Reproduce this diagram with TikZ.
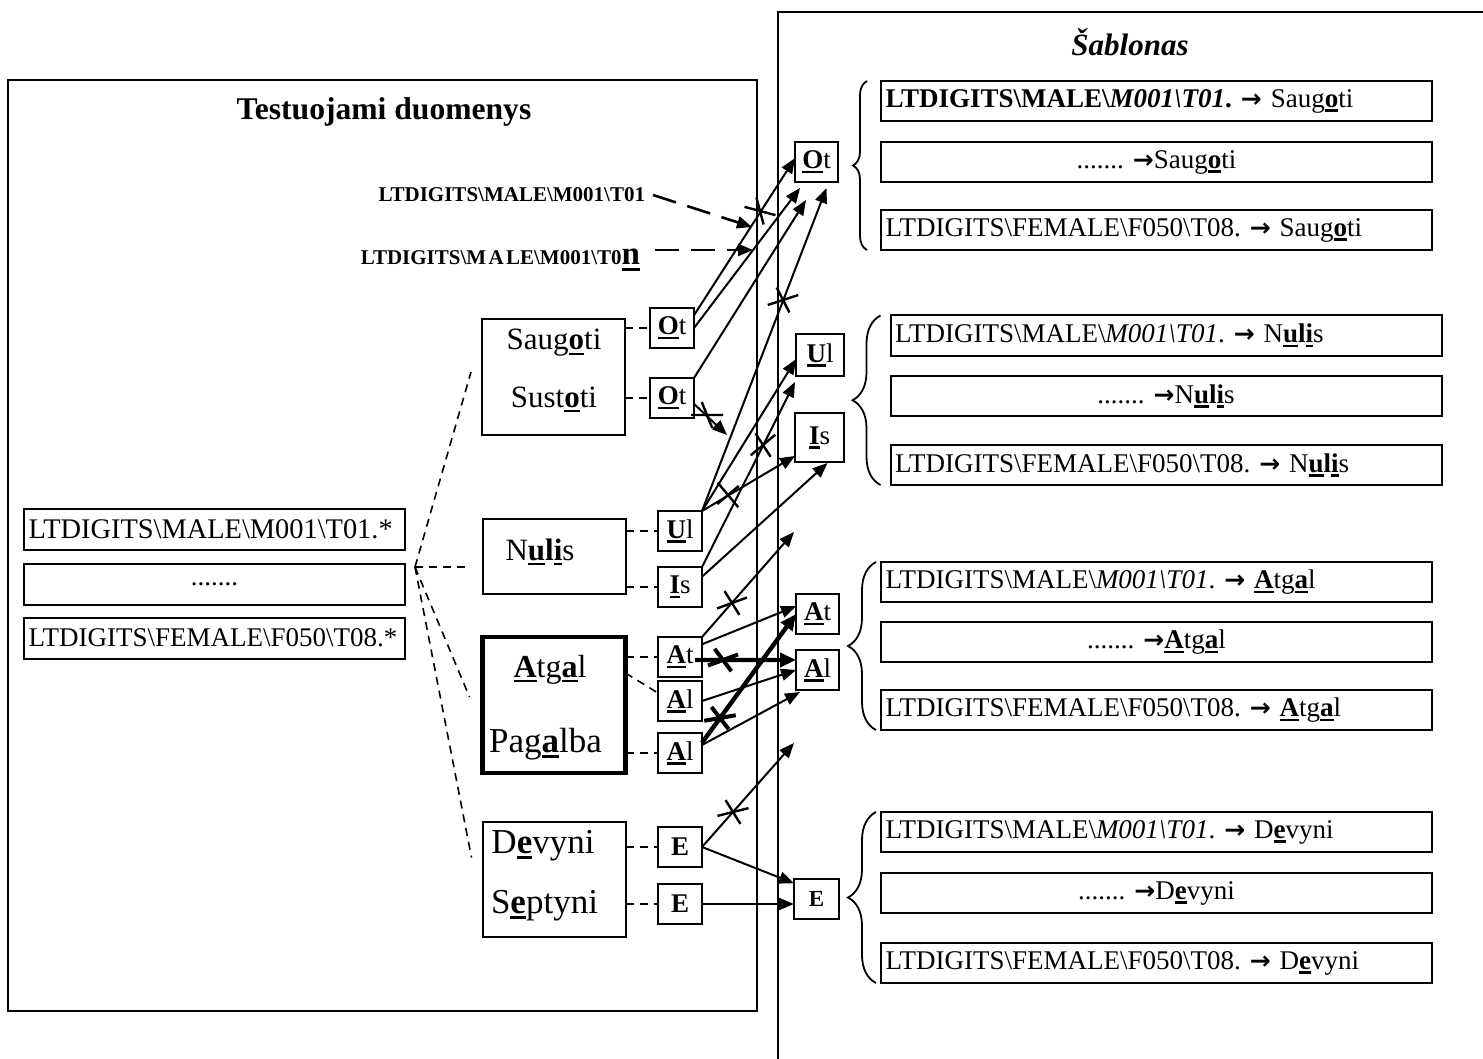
\documentclass[tikz,border=0pt]{standalone}
\usepackage{fontspec}
\setmainfont{Liberation Serif}
\newfontfamily\arrowfont{DejaVu Sans}
\usetikzlibrary{arrows.meta,calc,decorations.pathreplacing}
\frenchspacing

% bold letter with a heavy underline
\newsavebox\ulbox
\newcommand\ubf[1]{\sbox\ulbox{\bfseries #1}\rlap{\rule[-0.17em]{\wd\ulbox}{0.085em}}\usebox\ulbox}
\newcommand\bsl{\textbackslash}
\newcommand\setfs[1]{\fontsize{#1pt}{#1pt}\selectfont}
\newcommand\tto{{\arrowfont\bfseries\setfs{12.5}→}}

\tikzset{
  every node/.style={inner sep=0pt, outer sep=0pt},
  frame/.style={draw, line width=1pt},
  rowbox/.style={draw, line width=1pt, minimum width=190.5pt, minimum height=20.5pt,
    text width=186pt, align=left, font=\setfs{13.5}},
  wordbox/.style={draw, line width=1pt, minimum width=71.5pt},
  wordtext/.style={anchor=base, font=\setfs{15.5}},
  tag/.style={draw, line width=1pt, minimum width=22pt, minimum height=20pt, font=\setfs{13.5}},
  tmpl/.style={draw, line width=1pt, minimum width=275.5pt, minimum height=20pt,
    text width=271pt, align=left, font=\setfs{13.5}},
  link/.style={line width=1pt, -{Triangle[length=7.5pt,width=6pt]}},
  heavylink/.style={line width=2.2pt, -{Triangle[length=8pt,width=7pt]}},
  dotlink/.style={line width=0.8pt, dash pattern=on 4pt off 3pt},
  dashlink/.style={line width=1.3pt, dash pattern=on 12pt off 6pt, -{Triangle[length=7.5pt,width=6pt]}},
  grp/.style={decorate, decoration={brace, amplitude=#1}, line width=0.9pt},
  pics/xmark/.style n args={3}{code={
    \draw[line width=#3] (#1:16) -- (#1+180:16) (#2:14) -- (#2+180:14);}}
}

\begin{document}
\begin{tikzpicture}[x=0.5pt, y=-0.5pt]
\useasboundingbox (0,0) rectangle (1483,1059);

% ---- the two frames
\node[frame, anchor=north west, minimum width=374.5pt, minimum height=465.5pt] (dataframe) at (8,80) {};
\draw[line width=1pt] (778,1059) -- (778,12) -- (1483,12);
\node[font=\bfseries\setfs{15.8}] (ttl) at (384,112) {Testuojami duomenys};
\node[font=\bfseries\itshape\setfs{15.5}] (tpl) at (1130,42) {Šablonas};

% ---- recorded files
\node[rowbox, font=\setfs{14.2}] (r1) at (214.5,529.5) {LTDIGITS\bsl MALE\bsl M001\bsl T01.*};
\node[rowbox, align=center] (r2) at (214.5,584) {.......};
\node[rowbox] (r3) at (214.5,638) {LTDIGITS\bsl FEMALE\bsl F050\bsl T08.*};
\coordinate (fan) at (415,567);

% ---- words
\node[wordbox, minimum height=58pt] (sbox) at (553.5,377) {};
\node[wordtext] (sw1) at (554,350) {Saug\ubf{o}ti};
\node[wordtext] (sw2) at (554,407) {Sust\ubf{o}ti};
\node[wordbox, minimum height=37.5pt] (nbox) at (554,556.5) {};
\node[wordtext] (nw) at (540,560) {N\ubf{u}\textbf{l}\ubf{i}s};
\node[wordbox, line width=2.2pt, minimum height=68pt] (abox) at (554,705) {};
\node[wordtext, font=\setfs{16}] (aw1) at (550,677) {\ubf{A}tg\ubf{a}l};
\node[wordtext, font=\setfs{17.5}] (aw2) at (545.5,752) {Pag\ubf{a}lba};
\node[wordbox, minimum height=57.5pt] (dbox) at (554,879.5) {};
\node[wordtext, font=\setfs{17.5}] (dw1) at (543,853) {D\ubf{e}vyni};
\node[wordtext, font=\setfs{17.5}] (dw2) at (544.5,913) {S\ubf{e}ptyni};

% ---- units taken from the words
\node[tag] (tOt1) at (672,328) {\ubf{O}t};
\node[tag] (tOt2) at (672,398) {\ubf{O}t};
\node[tag] (tUl) at (680,531) {\ubf{U}l};
\node[tag] (tIs) at (680,587) {\ubf{I}s};
\node[tag] (tAt) at (680,657) {\ubf{A}t};
\node[tag] (tAl1) at (680,701) {\ubf{A}l};
\node[tag] (tAl2) at (680,753) {\ubf{A}l};
\node[tag] (tE1) at (680,847) {\textbf{E}};
\node[tag] (tE2) at (680,904) {\textbf{E}};

% ---- template units
\node[tag, minimum width=21.5pt] (rOt) at (816.5,162) {\ubf{O}t};
\node[tag, minimum width=24pt, minimum height=21pt] (rUl) at (820,355) {\ubf{U}l};
\node[tag, minimum width=24.5pt, minimum height=24.5pt] (rIs) at (819.5,437.5) {\ubf{I}s};
\node[tag, minimum width=21.5pt] (rAt) at (817.5,614) {\ubf{A}t};
\node[tag, minimum width=21.5pt] (rAl) at (817.5,670) {\ubf{A}l};
\node[tag, minimum width=22.5pt, font=\setfs{11.5}] (rE) at (816.5,899) {\textbf{E}};

% ---- template rows
\node[tmpl] (t11) at (1156.5,101) {{\bfseries LTDIGITS\bsl MALE\bsl\textit{M001\bsl T01}.} \tto{} Saug\ubf{o}ti};
\node[tmpl, align=center] (t12) at (1156.5,162) {....... \tto Saug\ubf{o}ti};
\node[tmpl] (t13) at (1156.5,230) {LTDIGITS\bsl FEMALE\bsl F050\bsl T08. \tto{} Saug\ubf{o}ti};
\node[tmpl] (t21) at (1166,335.5) {LTDIGITS\bsl MALE\bsl\textit{M001\bsl T01}. \tto{} N\ubf{u}\textbf{l}\ubf{i}s};
\node[tmpl, align=center] (t22) at (1166,396) {....... \tto N\ubf{u}\textbf{l}\ubf{i}s};
\node[tmpl] (t23) at (1166,465) {LTDIGITS\bsl FEMALE\bsl F050\bsl T08. \tto{} N\ubf{u}\textbf{l}\ubf{i}s};
\node[tmpl] (t31) at (1156.5,582) {LTDIGITS\bsl MALE\bsl\textit{M001\bsl T01}. \tto{} \ubf{A}tg\ubf{a}l};
\node[tmpl, align=center] (t32) at (1156.5,642) {....... \tto\ubf{A}tg\ubf{a}l};
\node[tmpl] (t33) at (1156.5,710) {LTDIGITS\bsl FEMALE\bsl F050\bsl T08. \tto{} \ubf{A}tg\ubf{a}l};
\node[tmpl] (t41) at (1156.5,832) {LTDIGITS\bsl MALE\bsl\textit{M001\bsl T01}. \tto{} D\ubf{e}vyni};
\node[tmpl, align=center] (t42) at (1156.5,893) {....... \tto D\ubf{e}vyni};
\node[tmpl] (t43) at (1156.5,963) {LTDIGITS\bsl FEMALE\bsl F050\bsl T08. \tto{} D\ubf{e}vyni};

% ---- braces grouping each template
\draw[grp=7pt] ($(t13.south west)+(-14,0)$) -- ($(t11.north west)+(-14,0)$);
\draw[grp=14pt] ($(t23.south west)+(-10,0)$) -- ($(t21.north west)+(-10,0)$);
\draw[grp=14pt] ($(t33.south west)+(-5,0)$) -- ($(t31.north west)+(-5,0)$);
\draw[grp=14pt] ($(t43.south west)+(-5,0)$) -- ($(t41.north west)+(-5,0)$);

% ---- test file labels
\node[font=\bfseries\setfs{10.5}, anchor=east] (lbl1) at (645,195) {LTDIGITS\bsl MALE\bsl M001\bsl T01};
\node[font=\bfseries\setfs{10.5}, anchor=base east] (lbl2) at (640,265) {LTDIGITS\bsl M\kern1.2pt A\kern1.2pt LE\bsl M001\bsl T0{\setfs{16.5}\ubf{n}}};
\coordinate (hit1) at (752,227);
\coordinate (hit2) at (753,250);
\draw[dashlink] ($(lbl1.east)+(8,0)$) -- (hit1);
\draw[dashlink] ($(lbl2.east |- hit2)+(15,0)$) -- (hit2);

% ---- dashed relations
\draw[dotlink] (fan) -- ($(sbox.west)+(-11,-5)$);
\draw[dotlink] (fan) -- ($(nbox.west |- fan)+(-13,0)$);
\draw[dotlink] (fan) -- ($(abox.west)+(-13,-8)$);
\draw[dotlink] (fan) -- ($(dbox.west)+(-11,-22)$);
\draw[dotlink] (sbox.east |- tOt1.west) -- (tOt1.west);
\draw[dotlink] (sbox.east |- tOt2.west) -- (tOt2.west);
\draw[dotlink] (nbox.east |- tUl.west) -- (tUl.west);
\draw[dotlink] (nbox.east |- tIs.west) -- (tIs.west);
\draw[dotlink] (abox.east |- tAt.west) -- (tAt.west);
\draw[dotlink] ($(abox.north east)+(0,36)$) -- (tAl1.160);
\draw[dotlink] (abox.east |- tAl2.west) -- (tAl2.west);
\draw[dotlink] (dbox.east |- tE1.west) -- (tE1.west);
\draw[dotlink] (dbox.east |- tE2.west) -- (tE2.west);

% ---- matching arrows
\coordinate (miss1) at (727,435);
\coordinate (miss2) at (794,532);
\coordinate (miss3) at (794,743);
\draw[link] (tOt1.30) -- (rOt.170);
\draw[link] (tOt1.east) -- ($(rOt.south west)+(5,6)$);
\draw[link] (tOt2.north east) -- ($(rOt.south west)+(11,18)$);
\draw[link] (tUl.north east) -- ($(rOt.south)+(10,6)$);
\draw[link] (tOt2.-15) -- (miss1);
\draw[link] (tUl.north east) -- (rUl.190);
\draw[link] (tUl.north east) -- (rIs.217);
\draw[link] (tIs.north east) -- ($(rUl.south west)+(-1,6)$);
\draw[link] (tIs.25) -- ($(rIs.south)+(8,1)$);
\draw[link] (tAt.north east) -- (miss2);
\draw[link] (tAt.30) -- (rAt.160);
\draw[heavylink] ($(tAt.east)+(-7,3)$) -- (rAl.155);
\draw[link] (tAl1.east) -- (rAl.west);
\draw[heavylink] (tAl2.25) -- (rAt.west);
\draw[link] (tAl2.20) -- ($(rAl.south west)+(4,2)$);
\draw[link] (tE1.east) -- (miss3);
\draw[link] (tE1.east) -- (rE.145);
\draw[link] (tE2.east) -- (tE2.east -| rE.west);

% ---- rejected matches
\pic at (760,211) {xmark={15}{75}{1.2pt}};
\pic at (783,300) {xmark={-18}{63}{1.2pt}};
\pic at (707,415) {xmark={0}{68}{1.2pt}};
\pic at (728,495) {xmark={50}{-40}{1.2pt}};
\pic at (763,445) {xmark={-40}{57}{1.2pt}};
\pic at (732,603) {xmark={-20}{58}{1.2pt}};
\pic at (723,660) {xmark={-20}{53}{2pt}};
\pic at (720,718) {xmark={-10}{52}{2pt}};
\pic at (733,812) {xmark={-14}{58}{1.2pt}};
\end{tikzpicture}
\end{document}
